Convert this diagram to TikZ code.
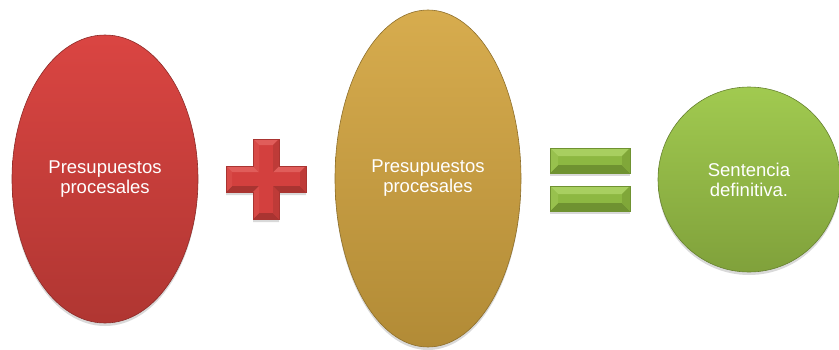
\documentclass[tikz,border=0pt]{standalone}
\usepackage{fontspec}
\setmainfont{Liberation Sans}
\usetikzlibrary{shapes.geometric,shadows,positioning}

\definecolor{redtop}{HTML}{DA4542}
\definecolor{redbot}{HTML}{B03632}
\definecolor{goldtop}{HTML}{D7AC4E}
\definecolor{goldbot}{HTML}{B28B36}
\definecolor{greentop}{HTML}{A1CA50}
\definecolor{greenbot}{HTML}{80A13B}
\definecolor{plusbase}{HTML}{D3403E}
\definecolor{pluslight}{HTML}{E05D5A}
\definecolor{plusdark}{HTML}{A93431}
\definecolor{plusleft}{HTML}{D84A47}
\definecolor{plusright}{HTML}{BE3B38}
\definecolor{eqbase}{HTML}{8DB842}
\definecolor{eqlight}{HTML}{A8CF60}
\definecolor{eqdark}{HTML}{6F9231}
\definecolor{eqleft}{HTML}{98C14E}
\definecolor{eqright}{HTML}{80A739}

\tikzset{
  bubble/.style={ellipse, inner sep=0pt, text=white, align=center,
    font=\fontsize{18.5}{20}\selectfont,
    drop shadow={opacity=0.3, shadow xshift=0pt, shadow yshift=-3pt}},
  softshadow/.style={drop shadow={opacity=0.3, shadow xshift=0pt, shadow yshift=-3pt}}
}

\begin{document}
\begin{tikzpicture}[x=1pt, y=-1pt]
    \useasboundingbox (0,0) rectangle (839,349);

    % Ellipses
    \node[bubble, minimum width=186pt, minimum height=288pt,
          top color=redtop, bottom color=redbot, draw=redbot!80!black, line width=0.6pt]
          (first) at (105,179) {Presupuestos\\procesales};
    \node[bubble, minimum width=186pt, minimum height=337pt,
          top color=goldtop, bottom color=goldbot, draw=goldbot!80!black, line width=0.6pt]
          (second) at (428,178.5) {Presupuestos\\procesales};
    \node[bubble, minimum width=182pt, minimum height=185pt,
          top color=greentop, bottom color=greenbot, draw=greenbot!80!black, line width=0.6pt]
          (result) at (749,179.5) {Sentencia\\definitiva.};

    % Plus sign
    \begin{scope}[shift={(266,179)}]
        \fill[plusbase, softshadow] (-13,-40) -- (13,-40) -- (13,-13) -- (40,-13) -- (40,13)
            -- (13,13) -- (13,40) -- (-13,40) -- (-13,13) -- (-40,13) -- (-40,-13) -- (-13,-13) -- cycle;
        % bevel facets
        \foreach \a/\b/\c/\d in {-13/-40/13/-40, 13/-13/40/-13, -40/-13/-13/-13}
            \fill[pluslight] (\a,\b) -- (\c,\d) -- ({\c-6*sign(\c)},{\d+6}) -- ({\a-6*sign(\a)},{\b+6}) -- cycle;
        \foreach \a/\b/\c/\d in {-13/40/13/40, 13/13/40/13, -40/13/-13/13}
            \fill[plusdark] (\a,\b) -- (\c,\d) -- ({\c-6*sign(\c)},{\d-6}) -- ({\a-6*sign(\a)},{\b-6}) -- cycle;
        \foreach \a/\b/\c/\d in {-40/-13/-40/13, -13/-40/-13/-13, -13/13/-13/40}
            \fill[plusleft] (\a,\b) -- (\c,\d) -- ({\c+6},{\d-6*sign(\d)}) -- ({\a+6},{\b-6*sign(\b)}) -- cycle;
        \foreach \a/\b/\c/\d in {40/-13/40/13, 13/-40/13/-13, 13/13/13/40}
            \fill[plusright] (\a,\b) -- (\c,\d) -- ({\c-6},{\d-6*sign(\d)}) -- ({\a-6},{\b-6*sign(\b)}) -- cycle;
        \draw[plusdark, line width=0.5pt] (-13,-40) -- (13,-40) -- (13,-13) -- (40,-13) -- (40,13)
            -- (13,13) -- (13,40) -- (-13,40) -- (-13,13) -- (-40,13) -- (-40,-13) -- (-13,-13) -- cycle;
    \end{scope}

    % Equals sign
    \foreach \y in {148,186} {
        \fill[eqbase, softshadow] (550,\y) rectangle (630,\y+25);
        \fill[eqlight] (550,\y) -- (630,\y) -- (622,\y+8) -- (558,\y+8) -- cycle;
        \fill[eqdark] (550,\y+25) -- (630,\y+25) -- (622,\y+17) -- (558,\y+17) -- cycle;
        \fill[eqleft] (550,\y) -- (558,\y+8) -- (558,\y+17) -- (550,\y+25) -- cycle;
        \fill[eqright] (630,\y) -- (622,\y+8) -- (622,\y+17) -- (630,\y+25) -- cycle;
        \draw[eqdark, line width=0.5pt] (550,\y) rectangle (630,\y+25);
    }
\end{tikzpicture}
\end{document}
